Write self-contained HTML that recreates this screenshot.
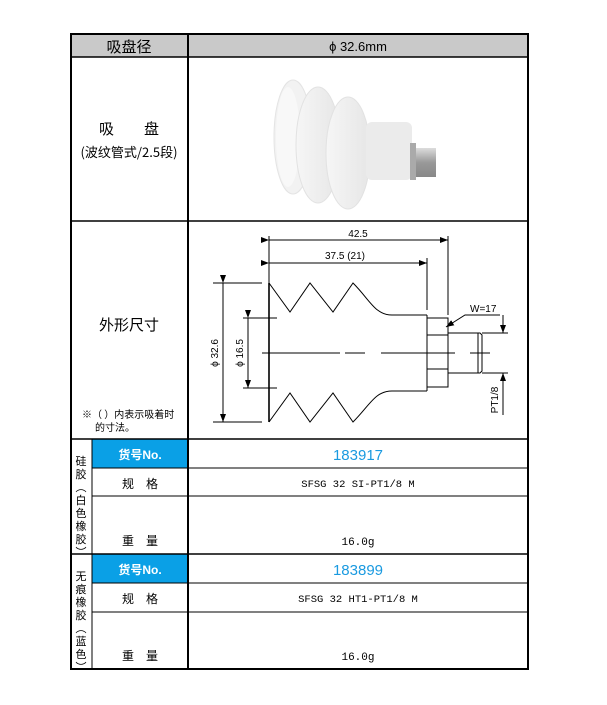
<!DOCTYPE html>
<html><head><meta charset="utf-8"><style>
html,body{margin:0;padding:0;background:#fff;}
svg{display:block;}
text{font-family:"Liberation Sans","Noto Sans CJK SC",sans-serif;}
.cj{font-family:"Noto Sans CJK SC",sans-serif;}
.mono{font-family:"Liberation Mono","Noto Sans CJK SC",monospace;}
</style></head><body>
<svg width="607" height="705" viewBox="0 0 607 705" xmlns="http://www.w3.org/2000/svg">
<defs>
<marker id="a" markerWidth="8" markerHeight="6" refX="8" refY="3" orient="auto" markerUnits="userSpaceOnUse"><path d="M0,0 L8,3 L0,6 z" fill="#000"/></marker>
<linearGradient id="g1" x1="0" x2="1"><stop offset="0" stop-color="#f6f6f6"/><stop offset="1" stop-color="#e6e6e6"/></linearGradient>
<linearGradient id="g2" x1="0" x2="0" y1="0" y2="1"><stop offset="0" stop-color="#ddd"/><stop offset="0.5" stop-color="#999"/><stop offset="1" stop-color="#888"/></linearGradient>
</defs>
<rect x="71" y="34" width="457" height="23" fill="#c9c9c9"/>
<rect x="92" y="439" width="96" height="29" fill="#0aa0e6"/>
<rect x="92" y="554" width="96" height="29" fill="#0aa0e6"/>
<g stroke="#000" fill="none">
<rect x="71" y="34" width="457" height="635" stroke-width="2"/>
<line x1="188" y1="34" x2="188" y2="669" stroke-width="2"/>
<line x1="71" y1="57" x2="528" y2="57" stroke-width="1.5"/>
<line x1="71" y1="221" x2="528" y2="221" stroke-width="1.5"/>
<line x1="71" y1="439" x2="528" y2="439" stroke-width="1.5"/>
<line x1="92" y1="468" x2="528" y2="468" stroke-width="1"/>
<line x1="92" y1="496" x2="528" y2="496" stroke-width="1"/>
<line x1="71" y1="554" x2="528" y2="554" stroke-width="1.5"/>
<line x1="92" y1="583" x2="528" y2="583" stroke-width="1"/>
<line x1="92" y1="612" x2="528" y2="612" stroke-width="1"/>
<line x1="92" y1="439" x2="92" y2="669" stroke-width="1"/>
</g>
<text x="129" y="52" font-size="15" text-anchor="middle" class="cj">吸盘径</text>
<text x="358" y="51" font-size="13" text-anchor="middle">ϕ 32.6mm</text>
<text x="129" y="134" font-size="15" text-anchor="middle" class="cj">吸　　盘</text>
<text x="129" y="157" font-size="13" text-anchor="middle" class="cj">(波纹管式/2.5段)</text>
<text x="129" y="330" font-size="15" text-anchor="middle" class="cj">外形尺寸</text>
<text x="82" y="418" font-size="10" class="cj">※（  ）内表示吸着时</text>
<text x="95" y="431" font-size="10" class="cj">的寸法。</text>
<!-- photo -->
<g>
<ellipse cx="293" cy="137" rx="19" ry="57" fill="#f2f2f2" stroke="#e4e4e4"/>
<ellipse cx="288" cy="137" rx="12" ry="50" fill="#f8f8f8"/>
<ellipse cx="318" cy="145" rx="22" ry="58" fill="url(#g1)" stroke="#e2e2e2"/>
<ellipse cx="348" cy="153" rx="22" ry="56" fill="url(#g1)" stroke="#e2e2e2"/>
<rect x="366" y="122" width="46" height="58" rx="6" fill="#ebebeb"/>
<rect x="410" y="143" width="6" height="37" fill="#aaa"/>
<rect x="416" y="148" width="20" height="29" fill="url(#g2)"/>
</g>
<!-- drawing -->
<g stroke="#000" fill="none" stroke-width="1">
<line x1="269" y1="236" x2="269" y2="283"/>
<line x1="448" y1="236" x2="448" y2="315"/>
<line x1="427" y1="258" x2="427" y2="310"/>
<line x1="269" y1="240" x2="448" y2="240" marker-start="url(#a)" marker-end="url(#a)"/>
<line x1="269" y1="263" x2="427" y2="263" marker-start="url(#a)" marker-end="url(#a)"/>
<line x1="269" y1="283" x2="269" y2="422" stroke-width="1.6"/>
<path d="M269,283 L290,312 L310,283 L333,312 L353,283 C370,300 375,315 392,315 L427,315"/>
<path d="M269,422 L290,393 L310,422 L333,393 L353,422 C370,405 375,391 392,391 L427,391"/>
<line x1="427" y1="315" x2="427" y2="391"/>
<rect x="427" y="318" width="21" height="69"/>
<line x1="427" y1="335" x2="448" y2="335"/>
<line x1="427" y1="369" x2="448" y2="369"/>
<path d="M448,333 L480,333 L482,335 L482,371 L480,373 L448,373"/>
<line x1="478" y1="333" x2="478" y2="373"/>
<line x1="262" y1="353" x2="340" y2="353"/>
<line x1="345" y1="353" x2="365" y2="353"/>
<line x1="381" y1="353" x2="455" y2="353"/>
<line x1="470" y1="353" x2="490" y2="353"/>
<line x1="213" y1="283" x2="262" y2="283"/>
<line x1="213" y1="422" x2="262" y2="422"/>
<line x1="223" y1="283" x2="223" y2="422" marker-start="url(#a)" marker-end="url(#a)"/>
<line x1="243" y1="318" x2="277" y2="318"/>
<line x1="243" y1="388" x2="277" y2="388"/>
<line x1="248" y1="318" x2="248" y2="388" marker-start="url(#a)" marker-end="url(#a)"/>
<line x1="482" y1="333" x2="508" y2="333"/>
<line x1="482" y1="373" x2="508" y2="373"/>
<line x1="503" y1="315" x2="503" y2="333" marker-end="url(#a)"/>
<line x1="503" y1="415" x2="503" y2="373" marker-end="url(#a)"/>
<path d="M500,315 L465,315 L446,327" marker-end="url(#a)"/>
</g>
<g class="mono" font-size="10">
<text x="358" y="237" text-anchor="middle">42.5</text>
<text x="345" y="259" text-anchor="middle">37.5 (21)</text>
<text x="470" y="312">W=17</text>
<text transform="translate(218,353) rotate(-90)" text-anchor="middle">ϕ 32.6</text>
<text transform="translate(243,353) rotate(-90)" text-anchor="middle">ϕ 16.5</text>
<text transform="translate(498,400) rotate(-90)" text-anchor="middle">PT1/8</text>
</g>
<g class="cj" font-size="11" text-anchor="middle">
<text x="81" y="465">硅</text><text x="81" y="478">胶</text><text x="81" y="491">︵</text><text x="81" y="504">白</text><text x="81" y="517">色</text><text x="81" y="530">橡</text><text x="81" y="543">胶</text><text x="81" y="556">︶</text>
<text x="81" y="580">无</text><text x="81" y="593">痕</text><text x="81" y="606">橡</text><text x="81" y="619">胶</text><text x="81" y="632">︵</text><text x="81" y="645">蓝</text><text x="81" y="658">色</text><text x="81" y="671">︶</text>
</g>
<g class="cj" text-anchor="middle">
<text x="140" y="459" font-size="12" font-weight="bold" fill="#fff">货号No.</text>
<text x="140" y="574" font-size="12" font-weight="bold" fill="#fff">货号No.</text>
<text x="140" y="488" font-size="12">规　格</text>
<text x="140" y="603" font-size="12">规　格</text>
<text x="140" y="545" font-size="12">重　量</text>
<text x="140" y="660" font-size="12">重　量</text>
</g>
<g text-anchor="middle">
<text x="358" y="460" font-size="15" fill="#1a9ae0">183917</text>
<text x="358" y="575" font-size="15" fill="#1a9ae0">183899</text>
<text x="358" y="487" font-size="10.5" class="mono">SFSG 32 SI-PT1/8 M</text>
<text x="358" y="602" font-size="10.5" class="mono">SFSG 32 HT1-PT1/8 M</text>
<text x="358" y="545" font-size="11" class="mono">16.0g</text>
<text x="358" y="660" font-size="11" class="mono">16.0g</text>
</g>
</svg>
</body></html>
